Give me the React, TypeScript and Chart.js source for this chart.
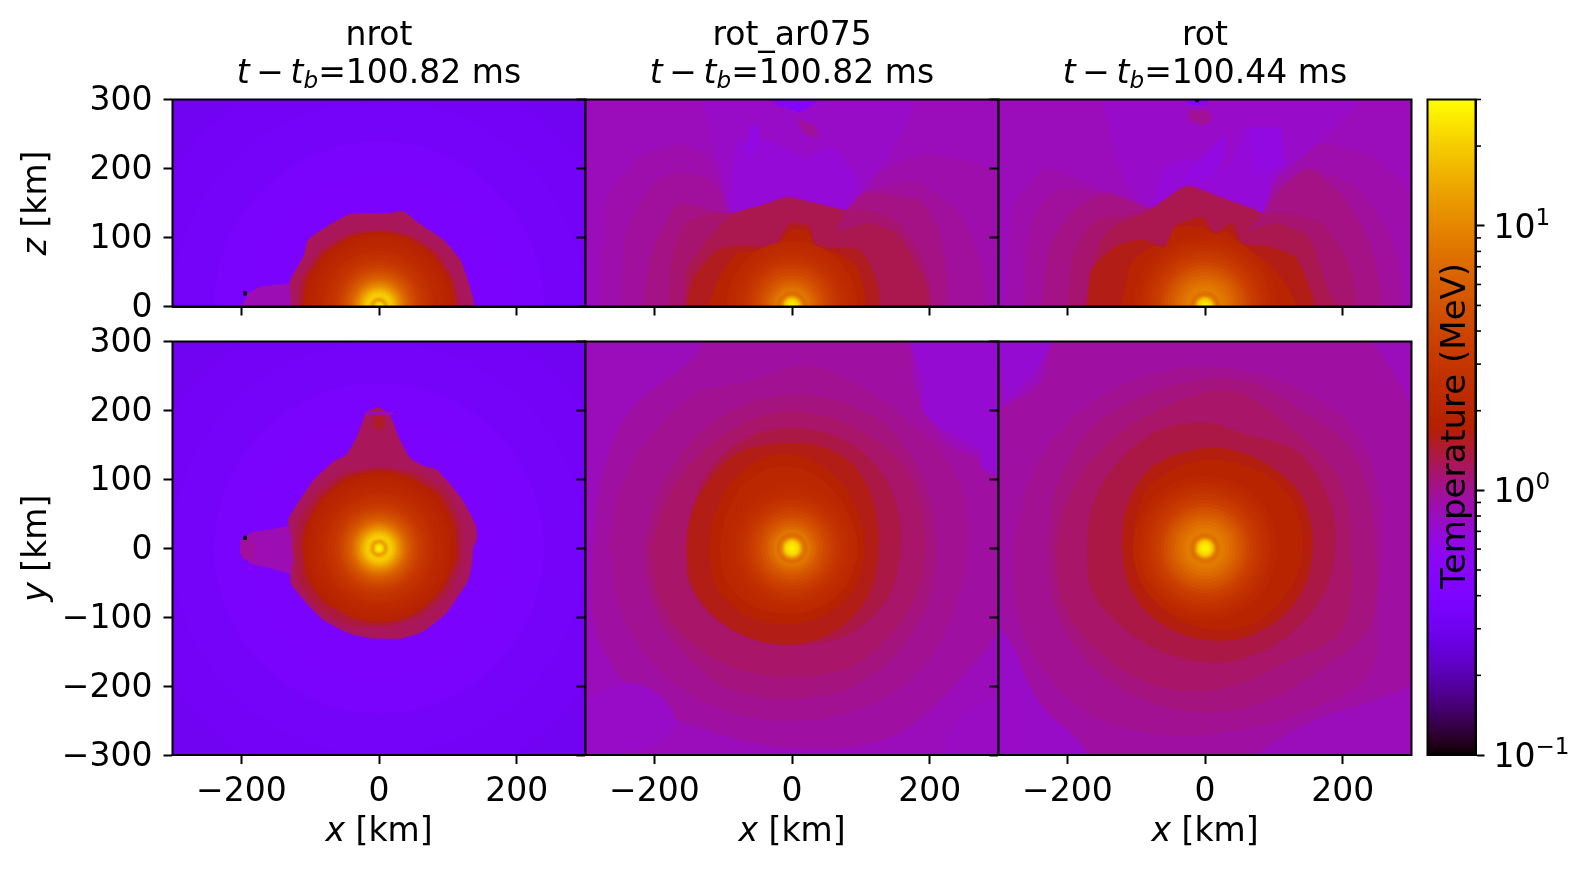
import React, { useEffect, useRef } from 'react';
import { Chart, registerables } from 'chart.js';

Chart.register(...registerables);

const W = 1596;
const H = 872;
const FONT = 'DejaVu Sans';
const FS = 33;

// tick lists
const X_TICKS = [-200, 0, 200];
const Z_TICKS = [0, 100, 200, 300];
const Y_TICKS = [-300, -200, -100, 0, 100, 200, 300];
const CB_TICKS = [0.1, 1, 10];
const CB_EXPONENTS = ['\u22121', '0', '1'];
const CB_MINOR = [0.2, 0.3, 0.4, 0.5, 0.6, 0.7, 0.8, 0.9, 2, 3, 4, 5, 6, 7, 8, 9, 20, 30];

const PANEL_NAMES = ['nrot', 'rot_ar075', 'rot'];
const PANEL_TIMES = ['100.82', '100.82', '100.44'];

// temperature (MeV) of the far field, read as rings round the origin: radius km, T
const NROT_FAR_R = [430, 360, 300, 240, 190];
const NROT_FAR_T = [0.31, 0.325, 0.34, 0.36, 0.38];
const ROTAR_FAR_R = [430];
const ROTAR_FAR_T = [0.82];
const ROT_FAR_R = [430];
const ROT_FAR_T = [0.82];

// inner core rings, outermost first
const NROT_CORE_R = [108, 104, 100, 95, 90, 85, 80, 75, 70, 65, 60, 56, 52, 48, 44, 40, 37, 34, 31, 28, 25, 22, 19, 16.5, 14, 12, 10, 8.5, 7, 5, 3];
const NROT_CORE_T = [1.85, 1.95, 2, 2.1, 2.2, 2.3, 2.5, 2.7, 2.9, 3.2, 3.6, 4, 4.5, 5.2, 6, 7, 8, 9.5, 11, 13, 15.5, 18, 20, 20, 17, 14, 13, 15, 20, 24, 26];
const ROTAR_CORE_R = [95, 90, 85, 80, 75, 70, 65, 60, 55, 50, 45, 40, 36, 32, 28, 25, 23, 21, 19, 17, 15, 13, 11, 9, 6, 3];
const ROTAR_CORE_T = [2.25, 2.3, 2.35, 2.45, 2.65, 2.9, 3.15, 3.5, 3.9, 4.3, 4.9, 5.5, 6.2, 7, 7.8, 8.3, 7.8, 7.2, 7.8, 9, 12, 16, 20, 23, 25, 27];
const ROT_CORE_R = [105, 100, 95, 90, 85, 80, 75, 70, 65, 60, 55, 50, 45, 40, 35, 30, 26, 23, 20, 18, 16, 14, 12, 10, 7, 4];
const ROT_CORE_T = [2.15, 2.25, 2.4, 2.55, 2.75, 3, 3.25, 3.6, 4, 4.6, 5.2, 5.8, 6.5, 7.2, 7.8, 8.4, 9, 8.2, 7.4, 8, 10, 14, 18, 22, 25, 27];

// contour levels and their outlines, [T, [x, y, x, y, ...]] in km, coolest first
const NROT_XZ_AREAS: [number, number[]][] = [
  [0.85, [-200, 0, -190, 19, -173, 29, -127, 34, -120, 0]],
  [0.1, [-197, 16, -192, 16, -192, 22, -197, 22]],
  [1.25, [-127, 0, -129, 38, -110, 72, -103, 97, -76, 116, -42, 134, 11, 135, 35, 138, 55, 123, 93, 97, 118, 68, 132, 29, 137, 0]],
  [1.45, [-117, 0, -112, 40, -85, 80, -45, 105, 0, 111, 45, 104, 85, 78, 108, 40, 113, 0]],
  [1.8, [-111, 0, -105, 40, -80, 76, -40, 102, 0, 108, 40, 101, 80, 74, 104, 38, 110, 0]],
];
const NROT_XY_AREAS: [number, number[]][] = [
  [0.85, [-120, -39, -158, -29, -187, -22, -202, -7, -200, 12, -183, 24, -154, 28, -132, 32, -110, 20, -110, -20]],
  [0.95, [-202, 10, -190, 18, -180, 5, -182, -15, -198, -16]],
  [0.1, [-197, 12, -192, 12, -192, 18, -197, 18]],
  [0.6, [-190, -31, -185, -31, -185, -28, -190, -28]],
  [1.25, [-1, 205, 14, 196, 21, 182, 28, 162, 38, 143, 45, 131, 64, 120, 84, 114, 98, 99, 118, 75, 132, 51, 141, 31, 142, 12, 137, 2, 135, -22, 130, -46, 118, -65, 98, -94, 64, -121, 31, -131, -8, -131, -42, -124, -81, -104, -105, -80, -127, -53, -129, -39, -125, -20, -128, 20, -132, 41, -115, 70, -95, 99, -66, 126, -47, 136, -32, 162, -23, 186, -18, 198]],
  [0.75, [-20, 194, 20, 194, 20, 198, -20, 198]],
  [1.5, [-6, 192, 6, 192, 10, 178, 0, 170, -10, 178]],
  [1.4, [-122, 0, -115, -50, -85, -90, -40, -112, 10, -114, 60, -100, 100, -65, 120, -20, 118, 40, 95, 85, 50, 112, 0, 118, -50, 110, -90, 80, -115, 40]],
  [1.7, [-112, 5, -105, -45, -78, -80, -35, -100, 10, -104, 55, -92, 92, -60, 113, -15, 110, 35, 88, 78, 45, 105, 0, 114, -48, 103, -85, 72, -106, 35]],
];
const ROTAR_XZ_AREAS: [number, number[]][] = [
  [0.88, [-279, 0, -272, 150, -225, 215, -160, 235, -115, 210, -90, 138, 77, 140, 115, 190, 190, 220, 260, 210, 300, 190, 310, 0]],
  [0.95, [-250, 0, -240, 110, -205, 175, -165, 195, -110, 180, -90, 138, 77, 140, 115, 170, 180, 180, 240, 140, 270, 80, 275, 0]],
  [0.77, [-130, 300, -105, 200, -90, 138, -51, 143, -8, 159, 26, 152, 77, 140, 113, 180, 150, 235, 175, 300]],
  [0.7, [-80, 240, -90, 138, -51, 143, -8, 159, 26, 152, 77, 140, 95, 180, 60, 230, 20, 215, -30, 240]],
  [0.65, [-68, 225, -60, 215, -45, 240, -50, 265, -62, 260]],
  [0.45, [-32, 300, -22, 292, 12, 281, 21, 287, 38, 298]],
  [0.95, [7, 273, 36, 261, 38, 242, 16, 252]],
  [1.05, [-216, 0, -206, 72, -182, 126, -163, 150, -95, 135, -51, 143, -8, 159, 26, 152, 77, 140, 104, 164, 138, 164, 191, 150, 215, 106, 220, 0]],
  [1.15, [-180, 0, -175, 72, -155, 120, -120, 135, -85, 135, -51, 143, -8, 159, 26, 152, 77, 140, 110, 140, 150, 125, 190, 70, 200, 0]],
  [1.3, [-155, 0, -153, 53, -119, 101, -85, 135, -51, 145, -8, 157, 26, 150, 75, 138, 65, 111, 113, 121, 152, 106, 191, 43, 196, 0]],
  [1.55, [-155, 0, -143, 43, -109, 82, -71, 89, -42, 87, -25, 87, -3, 121, 26, 116, 31, 92, 46, 87, 99, 82, 121, 43, 125, 0]],
  [1.95, [-122, 0, -105, 43, -80, 77, -46, 82, -22, 87, -3, 111, 21, 111, 36, 87, 65, 77, 94, 58, 104, 0]],
];
const ROTAR_XY_AREAS: [number, number[]][] = [
  [0.93, [-290, 0, -285, -120, -225, -215, -130, -262, 0, -290, 140, -275, 235, -200, 310, -90, 310, 110, 230, 150, 180, 230, 160, 310, -110, 310, -150, 270, -235, 200, -275, 110]],
  [0.77, [-300, -220, -240, -195, -190, -215, -170, -255, -210, -290, -300, -300]],
  [0.78, [300, -215, 245, -240, 215, -300, 300, -300]],
  [0.72, [170, 300, 190, 240, 190, 200, 225, 170, 300, 140, 300, 300]],
  [0.72, [300, 145, 272, 135, 275, 115, 300, 105]],
  [1.0, [-265, 0, -250, -90, -190, -180, -100, -235, 10, -250, 120, -225, 200, -160, 245, -60, 255, 50, 225, 130, 175, 180, 110, 230, 20, 265, -70, 240, -140, 225, -215, 150, -255, 70]],
  [1.08, [-216, 0, -205, -75, -165, -145, -90, -205, 10, -218, 100, -195, 170, -130, 205, -50, 205, 50, 180, 120, 130, 185, 40, 220, -50, 215, -130, 170, -190, 90]],
  [1.18, [-206, 0, -195, -70, -155, -130, -80, -175, 10, -186, 90, -170, 160, -105, 191, -30, 190, 50, 165, 115, 110, 165, 30, 196, -50, 190, -130, 140, -180, 75]],
  [1.35, [-155, 0, -150, -50, -115, -100, -50, -135, 20, -140, 90, -120, 140, -70, 157, -10, 155, 50, 130, 110, 80, 155, 10, 174, -55, 165, -115, 120, -145, 60]],
  [1.6, [-153, 0, -145, -55, -105, -105, -45, -135, 15, -137, 70, -115, 110, -70, 125, -10, 120, 60, 90, 120, 40, 148, -20, 152, -85, 135, -130, 85, -150, 35]],
  [1.9, [-121, 0, -110, -55, -70, -95, -15, -110, 40, -100, 85, -65, 104, -10, 100, 40, 75, 90, 25, 130, -30, 135, -80, 105, -110, 55]],
  [2.15, [-105, 0, -95, -48, -60, -82, -12, -94, 35, -86, 75, -55, 92, -8, 88, 35, 65, 78, 22, 112, -26, 117, -70, 92, -95, 48]],
];
const ROT_XZ_AREAS: [number, number[]][] = [
  [0.88, [-290, 0, -280, 140, -235, 200, -170, 180, -140, 164, -77, 143, 82, 135, 97, 179, 160, 235, 240, 220, 300, 160, 300, 0]],
  [0.95, [-262, 0, -255, 120, -215, 170, -140, 164, -77, 143, 82, 135, 100, 170, 155, 200, 225, 170, 275, 90, 280, 0]],
  [0.76, [-150, 300, -120, 190, -95, 150, -77, 143, -24, 174, 19, 160, 82, 135, 97, 179, 131, 208, 179, 251, 218, 300]],
  [0.7, [-60, 200, -77, 143, -24, 174, 19, 160, 82, 135, 97, 179, 100, 230, 60, 260, 30, 200, -30, 215]],
  [0.65, [-34, 184, -5, 215, 30, 250, 30, 215, 5, 185]],
  [0.65, [70, 190, 65, 260, 110, 260, 118, 205]],
  [0.45, [-28, 300, -22, 292, 0, 292, 8, 300]],
  [0.1, [-14, 296, -9, 296, -9, 301, -14, 301]],
  [0.98, [-24, 285, 5, 285, 10, 270, -5, 262, -24, 270]],
  [1.05, [-237, 0, -225, 90, -190, 140, -140, 165, -77, 143, -24, 174, 19, 160, 82, 135, 110, 170, 150, 200, 200, 160, 240, 90, 250, 0]],
  [1.15, [-200, 0, -190, 80, -160, 125, -100, 135, -77, 143, -24, 174, 19, 160, 82, 135, 120, 135, 170, 120, 205, 70, 215, 0]],
  [1.3, [-172, 0, -167, 43, -150, 97, -126, 121, -82, 138, -29, 174, 15, 160, 82, 135, 63, 111, 102, 121, 150, 101, 179, 24, 189, 0]],
  [1.6, [-172, 0, -165, 53, -131, 87, -92, 97, -58, 87, -44, 116, -5, 130, 15, 106, 39, 121, 53, 92, 92, 87, 131, 72, 153, 24, 157, 0]],
  [2.0, [-121, 0, -107, 63, -77, 87, -58, 87, -44, 114, -5, 116, 15, 106, 30, 110, 58, 87, 102, 53, 131, 0]],
];
const ROT_XY_AREAS: [number, number[]][] = [
  [0.93, [-300, 200, -295, -119, -276, -148, -257, -196, -232, -235, -189, -274, -170, -300, 60, -300, 120, -270, 170, -245, 260, -215, 300, -190, 300, 190, 270, 260, 230, 300, -215, 300, -240, 240]],
  [0.77, [-300, -119, -295, -119, -276, -148, -257, -196, -232, -235, -189, -274, -174, -300, -300, -300]],
  [0.72, [-300, 300, -290, 210, -250, 250, -220, 300]],
  [1.0, [-280, 0, -270, -110, -225, -190, -150, -250, -40, -272, 60, -262, 150, -235, 240, -180, 252, -70, 255, 60, 225, 160, 150, 225, 40, 260, -70, 255, -180, 200, -250, 110]],
  [1.08, [-228, 0, -220, -80, -175, -160, -100, -215, -10, -238, 80, -225, 170, -175, 240, -110, 245, 30, 215, 140, 150, 195, 50, 245, -60, 232, -160, 180, -215, 90]],
  [1.18, [-218, 0, -205, -85, -150, -155, -70, -200, 20, -205, 120, -165, 200, -115, 212, 0, 195, 100, 130, 170, 40, 228, -60, 205, -150, 145, -200, 70]],
  [1.35, [-172, 0, -165, -60, -120, -115, -50, -155, 30, -165, 110, -135, 170, -70, 189, 0, 180, 70, 135, 140, 60, 165, 0, 182, -70, 170, -135, 115, -165, 55]],
  [1.65, [-121, 0, -110, -55, -70, -105, 0, -133, 70, -125, 130, -80, 155, -15, 150, 50, 120, 100, 50, 140, -15, 143, -80, 115, -115, 55]],
  [1.95, [-105, 0, -92, -52, -52, -95, 12, -118, 72, -108, 122, -62, 142, -8, 135, 52, 98, 100, 30, 127, -35, 120, -85, 85, -100, 45]],
];

// gnuplot colormap on log10(T) between 0.1 and 30 MeV
const T_MIN = 0.1;
const T_MAX = 30;
const cmap = (t: number) => {
  const x = Math.min(1, Math.max(0, Math.log10(t / T_MIN) / Math.log10(T_MAX / T_MIN)));
  const r = Math.sqrt(x);
  const g = x * x * x;
  const b = Math.max(0, Math.sin(2 * Math.PI * x));
  return `rgb(${Math.round(r * 255)},${Math.round(g * 255)},${Math.round(b * 255)})`;
};

const circle = (r: number) => {
  const pts = [];
  for (let i = 0; i <= 72; i++) {
    const a = (i / 72) * 2 * Math.PI;
    pts.push({ x: r * Math.cos(a), y: r * Math.sin(a) });
  }
  return pts;
};

const outline = (flat: number[]) => {
  const pts = [];
  for (let i = 0; i < flat.length; i += 2) pts.push({ x: flat[i], y: flat[i + 1] });
  pts.push({ x: flat[0], y: flat[1] });
  return pts;
};

const layer = (t: number, data: { x: number; y: number }[], tension = 0) => ({
  data,
  showLine: true,
  fill: 'shape',
  backgroundColor: cmap(t),
  borderWidth: 0,
  pointRadius: 0,
  tension,
});

// first dataset ends up on top in chart.js, so build coolest first and reverse
const buildLayers = (
  farR: number[], farT: number[],
  areas: [number, number[]][],
  coreR: number[], coreT: number[],
  tension: number,
) => [
  ...farR.map((r, i) => layer(farT[i], circle(r))),
  ...areas.map(([t, flat]) => layer(t, outline(flat), flat.length > 10 ? tension : 0)),
  ...coreR.map((r, i) => layer(coreT[i], circle(r))),
].reverse();

type Run = { text: string; italic?: boolean; small?: boolean; dy?: number };
type Label = { x: number; y: number; runs: Run[]; rot?: number; size?: number; left?: boolean };

const drawRuns = (ctx: CanvasRenderingContext2D, l: Label) => {
  const size = l.size || FS;
  const fontOf = (r: Run) => `${r.italic ? 'italic ' : ''}${r.small ? size * 0.7 : size}px "${FONT}"`;
  let total = 0;
  l.runs.forEach((r) => { ctx.font = fontOf(r); total += ctx.measureText(r.text).width; });
  ctx.save();
  ctx.translate(l.x, l.y);
  ctx.rotate(l.rot || 0);
  ctx.fillStyle = '#000';
  ctx.textAlign = 'left';
  ctx.textBaseline = 'alphabetic';
  let pos = l.left ? 0 : -total / 2;
  l.runs.forEach((r) => {
    ctx.font = fontOf(r);
    ctx.fillText(r.text, pos, r.dy || 0);
    pos += ctx.measureText(r.text).width;
  });
  ctx.restore();
};

const framePlugin = (labels: Label[]) => ({
  id: 'frame',
  afterDraw(chart: any) {
    const { ctx, chartArea: a } = chart;
    ctx.save();
    ctx.strokeStyle = '#000';
    ctx.lineWidth = 2;
    ctx.strokeRect(a.left, a.top, a.right - a.left, a.bottom - a.top);
    ctx.restore();
    labels.forEach((l) => drawRuns(ctx, l));
  },
});

const PANEL_LEFT = [172.5, 585.5, 998.5];
const PANEL_W = 413;
const TOP_ROW = { top: 99.5, bottom: 306.5 };
const BOTTOM_ROW = { top: 341.5, bottom: 755 };

const minus = (v: number | string) => String(v).replace('-', '\u2212');

const axis = (ticks: number[], min: number, max: number, showLabels: boolean, fit: (s: any) => void, tickOpts = {}) => ({
  type: 'linear',
  min,
  max,
  afterBuildTicks: (s: any) => { s.ticks = ticks.map((value) => ({ value })); },
  afterFit: fit,
  border: { display: true, color: '#000', width: 2 },
  grid: { drawOnChartArea: false, drawTicks: true, tickLength: 9, tickWidth: 2, tickColor: '#000' },
  ticks: {
    display: showLabels,
    autoSkip: false,
    maxRotation: 0,
    padding: 9,
    color: '#000',
    font: { family: FONT, size: FS },
    callback: (v: number) => minus(v),
    ...tickOpts,
  },
});

const Panel: React.FC<{ col: number; row: number; datasets: any[] }> = ({ col, row, datasets }) => {
  const canvasRef = useRef<HTMLCanvasElement>(null);

  useEffect(() => {
    const left = PANEL_LEFT[col];
    const box = row === 0 ? TOP_ROW : BOTTOM_ROW;
    const centre = left + PANEL_W / 2;
    const labels: Label[] = [];
    if (row === 0) {
      labels.push({ x: centre, y: 45, runs: [{ text: PANEL_NAMES[col] }] });
      labels.push({
        x: centre,
        y: 83,
        runs: [
          { text: 't', italic: true },
          { text: '\u2009\u2212\u2009' },
          { text: 't', italic: true },
          { text: 'b', italic: true, small: true, dy: 5 },
          { text: `=${PANEL_TIMES[col]} ms` },
        ],
      });
    } else {
      labels.push({ x: centre, y: 841, runs: [{ text: 'x', italic: true }, { text: ' [km]' }] });
    }
    if (col === 0) {
      labels.push({
        x: 46,
        y: (box.top + box.bottom) / 2,
        rot: -Math.PI / 2,
        runs: [{ text: row === 0 ? 'z' : 'y', italic: true }, { text: ' [km]' }],
      });
    }

    const chart = new Chart(canvasRef.current!, {
      type: 'scatter',
      data: { datasets },
      options: {
        animation: false,
        responsive: false,
        layout: { padding: { left: 0, top: box.top, right: W - left - PANEL_W, bottom: 0 } },
        plugins: { legend: { display: false }, tooltip: { enabled: false } },
        scales: {
          x: axis(X_TICKS, -300, 300, row === 1, (s) => { s.height = H - box.bottom; }),
          y: axis(
            row === 0 ? Z_TICKS : Y_TICKS,
            row === 0 ? 0 : -300,
            300,
            col === 0,
            (s) => { s.width = left; },
            { padding: 11, labelOffset: 2 },
          ),
        },
      } as any,
      plugins: [framePlugin(labels)],
    });
    return () => chart.destroy();
  }, [col, row, datasets]);

  return <canvas ref={canvasRef} width={W} height={H} style={{ position: 'absolute', left: 0, top: 0, width: W, height: H }} />;
};

const ColorBar: React.FC = () => {
  const canvasRef = useRef<HTMLCanvasElement>(null);

  useEffect(() => {
    const cbTicks = {
      id: 'cbTicks',
      afterDraw(chart: any) {
        const { ctx, chartArea: a } = chart;
        const y = chart.scales.y;
        ctx.save();
        ctx.strokeStyle = '#000';
        ctx.lineWidth = 1.6;
        CB_MINOR.forEach((v) => {
          const p = y.getPixelForValue(v);
          ctx.beginPath();
          ctx.moveTo(a.right, p);
          ctx.lineTo(a.right + 5.5, p);
          ctx.stroke();
        });
        ctx.restore();
        CB_TICKS.forEach((v, i) => {
          drawRuns(ctx, {
            x: a.right + 18,
            y: y.getPixelForValue(v) + 12,
            left: true,
            runs: [{ text: '10' }, { text: CB_EXPONENTS[i], small: true, dy: -13 }],
          });
        });
      },
    };
    const chart = new Chart(canvasRef.current!, {
      type: 'bar',
      data: {
        labels: ['T'],
        datasets: [{
          data: [[T_MIN, T_MAX]],
          categoryPercentage: 1,
          barPercentage: 1,
          borderWidth: 0,
          backgroundColor: (c: any) => {
            const a = c.chart.chartArea;
            if (!a) return '#000';
            const g = c.chart.ctx.createLinearGradient(0, a.bottom, 0, a.top);
            for (let i = 0; i <= 128; i++) {
              const x = i / 128;
              g.addColorStop(x, cmap(T_MIN * Math.pow(T_MAX / T_MIN, x)));
            }
            return g;
          },
        }],
      },
      options: {
        animation: false,
        responsive: false,
        layout: { padding: { left: 1427.5, top: BOTTOM_ROW.bottom - 655.5, right: 0, bottom: H - BOTTOM_ROW.bottom } },
        plugins: { legend: { display: false }, tooltip: { enabled: false } },
        scales: {
          x: { display: false },
          y: {
            type: 'logarithmic',
            position: 'right',
            min: T_MIN,
            max: T_MAX,
            afterBuildTicks: (s: any) => { s.ticks = CB_TICKS.map((value) => ({ value })); },
            afterFit: (s: any) => { s.width = W - 1475.5; },
            border: { display: true, color: '#000', width: 2 },
            grid: { drawOnChartArea: false, drawTicks: true, tickLength: 9, tickWidth: 2, tickColor: '#000' },
            ticks: { display: false },
          },
        },
      } as any,
      plugins: [
        framePlugin([{ x: 1465, y: 426, rot: -Math.PI / 2, size: 34, runs: [{ text: 'Temperature (MeV)' }] }]),
        cbTicks,
      ],
    });
    return () => chart.destroy();
  }, []);

  return <canvas ref={canvasRef} width={W} height={H} style={{ position: 'absolute', left: 0, top: 0, width: W, height: H }} />;
};

const LAYERS = [
  [
    buildLayers(NROT_FAR_R, NROT_FAR_T, NROT_XZ_AREAS, NROT_CORE_R, NROT_CORE_T, 0.15),
    buildLayers(ROTAR_FAR_R, ROTAR_FAR_T, ROTAR_XZ_AREAS, ROTAR_CORE_R, ROTAR_CORE_T, 0.2),
    buildLayers(ROT_FAR_R, ROT_FAR_T, ROT_XZ_AREAS, ROT_CORE_R, ROT_CORE_T, 0.2),
  ],
  [
    buildLayers(NROT_FAR_R, NROT_FAR_T, NROT_XY_AREAS, NROT_CORE_R, NROT_CORE_T, 0.15),
    buildLayers(ROTAR_FAR_R, ROTAR_FAR_T, ROTAR_XY_AREAS, ROTAR_CORE_R, ROTAR_CORE_T, 0.35),
    buildLayers(ROT_FAR_R, ROT_FAR_T, ROT_XY_AREAS, ROT_CORE_R, ROT_CORE_T, 0.35),
  ],
];

const App: React.FC = () => (
  <div style={{ position: 'fixed', left: 0, top: 0, width: W, height: H, background: '#fff', overflow: 'hidden' }}>
    {LAYERS.map((cols, row) => cols.map((datasets, col) => (
      <Panel key={`${row}-${col}`} row={row} col={col} datasets={datasets} />
    )))}
    <ColorBar />
  </div>
);

export default App;
